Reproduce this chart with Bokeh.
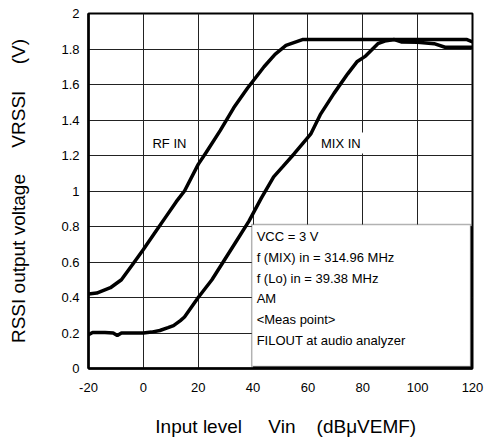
from bokeh.plotting import figure
from bokeh.models import Range1d, FixedTicker, Label, BoxAnnotation
from bokeh.embed import file_html
from bokeh.resources import INLINE

# ---- data ----
rf_x = [-20, -17, -12, -8, -4, 0, 4, 8, 12, 15, 20, 23, 28, 33, 38, 40, 44, 48, 52, 58, 70, 90, 110, 118, 120]
rf_y = [0.42, 0.425, 0.455, 0.5, 0.585, 0.67, 0.76, 0.85, 0.94, 1.0, 1.15, 1.22, 1.34, 1.47, 1.58, 1.62, 1.7, 1.77, 1.82, 1.853, 1.853, 1.853, 1.853, 1.853, 1.84]

mix_x = [-20, -18.5, -14, -11, -9.5, -8, 0, 3, 6, 9, 11, 13.5, 15, 20, 25, 29.5, 34, 38.5, 43, 47.5, 51, 55, 61, 64.5, 69.5, 74.5, 78, 81, 85.5, 88, 91.5, 94, 100, 106, 110, 115, 120]
mix_y = [0.19, 0.203, 0.203, 0.2, 0.186, 0.2, 0.2, 0.205, 0.214, 0.23, 0.242, 0.27, 0.29, 0.40, 0.50, 0.61, 0.72, 0.83, 0.96, 1.08, 1.14, 1.21, 1.32, 1.43, 1.55, 1.66, 1.73, 1.76, 1.83, 1.845, 1.853, 1.84, 1.838, 1.83, 1.81, 1.81, 1.81]

x_ticks = [-20, 0, 20, 40, 60, 80, 100, 120]
x_labels = ["-20", "0", "20", "40", "60", "80", "100", "120"]
y_ticks = [0, 0.2, 0.4, 0.6, 0.8, 1, 1.2, 1.4, 1.6, 1.8, 2]
y_labels = ["0", "0.2", "0.4", "0.6", "0.8", "1", "1.2", "1.4", "1.6", "1.8", "2"]

curve_labels = ["RF IN", "MIX IN"]
note_lines = [
    "VCC = 3 V",
    "f (MIX) in = 314.96 MHz",
    "f (Lo) in = 39.38 MHz",
    "AM",
    "<Meas point>",
    "FILOUT at audio analyzer",
]

NB = "\u00a0"
x_title = NB * 2 + "Input level" + NB * 5 + "Vin" + NB * 4 + "(dB\u03bcVEMF)"
y_title = "RSSI output voltage" + NB * 5 + "VRSSI" + NB * 5 + "(V)"

FONT = "Liberation Sans"

p = figure(width=485, height=441, output_backend="svg", toolbar_location=None,
           x_range=Range1d(-20, 120), y_range=Range1d(0, 2),
           min_border_left=88, min_border_right=13, min_border_top=13, min_border_bottom=73)
p.background_fill_color = "white"
p.border_fill_color = "white"
p.outline_line_color = "black"
p.outline_line_width = 2

for ax in (p.xaxis[0], p.yaxis[0]):
    ax.major_tick_line_color = None
    ax.minor_tick_line_color = None
    ax.major_tick_out = 0
    ax.major_tick_in = 0
    ax.minor_tick_out = 0
    ax.minor_tick_in = 0
    ax.axis_line_color = "black"
    ax.axis_line_width = 2.5
    ax.major_label_text_font = FONT
    ax.major_label_text_font_size = "13px"
    ax.major_label_text_color = "black"
    ax.axis_label_text_font = FONT
    ax.axis_label_text_font_size = "19px"
    ax.axis_label_text_font_style = "normal"
    ax.axis_label_text_color = "black"

p.xaxis.ticker = FixedTicker(ticks=x_ticks)
p.yaxis.ticker = FixedTicker(ticks=y_ticks)
p.xaxis.major_label_overrides = dict(zip(x_ticks, x_labels))
p.yaxis.major_label_overrides = dict(zip(y_ticks, y_labels))
p.xaxis.major_label_standoff = 14
p.yaxis.major_label_standoff = 9
p.xaxis.axis_label = x_title
p.yaxis.axis_label = y_title
p.xaxis.axis_label_standoff = 21
p.yaxis.axis_label_standoff = 29

p.xgrid.ticker = FixedTicker(ticks=x_ticks)
p.ygrid.ticker = FixedTicker(ticks=y_ticks)
for g in (p.xgrid[0], p.ygrid[0]):
    g.grid_line_color = "#222222"
    g.grid_line_width = 1

p.line(rf_x, rf_y, line_color="black", line_width=3.5)
p.line(mix_x, mix_y, line_color="black", line_width=3.5)

p.add_layout(Label(x=9.5, y=1.27, text=curve_labels[0], text_font=FONT, text_font_size="13px",
                   text_align="center", text_baseline="middle", text_color="black"))
p.add_layout(Label(x=72, y=1.27, text=curve_labels[1], text_font=FONT, text_font_size="13px",
                   text_align="center", text_baseline="middle", text_color="black",
                   background_fill_color="white", padding=3))

# note box with shadow
p.add_layout(BoxAnnotation(left=40.2, right=120, bottom=0.0, top=0.80,
                           fill_color="black", fill_alpha=1, line_color=None))
p.add_layout(BoxAnnotation(left=39.5, right=119.3, bottom=0.011, top=0.811,
                           fill_color="white", fill_alpha=1, line_color="black", line_width=1.5))
y0, step = 0.742, 0.1165
for i, t in enumerate(note_lines):
    p.add_layout(Label(x=41.3, y=y0 - i * step, text=t, text_font=FONT, text_font_size="13px",
                       text_align="left", text_baseline="middle", text_color="black"))

open("out.html", "w").write(file_html(p, INLINE))
